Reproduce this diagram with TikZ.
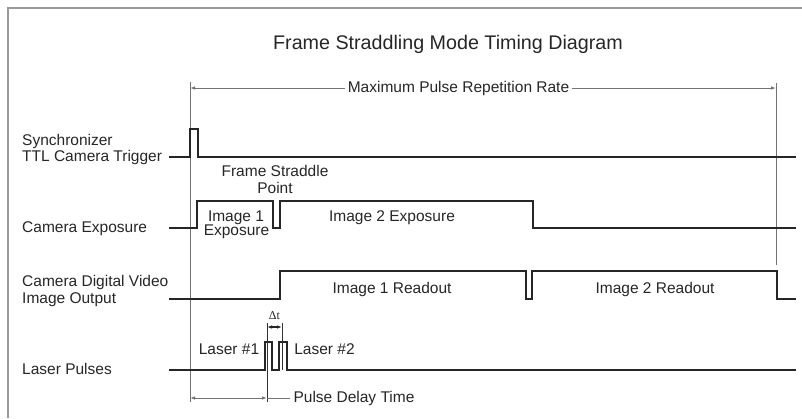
\documentclass[tikz,border=0pt]{standalone}
\usepackage{fontspec}
\setmainfont{Liberation Sans}
\newfontfamily\dtfont{Liberation Serif}
\usetikzlibrary{arrows.meta}
\newcommand{\tlabel}[3]{\node[lbl,anchor=base] (#1) at (#2) {#3}}
\newcommand{\siglabel}[3]{\node[lbl,anchor=base west] (#1) at (22,#2) {#3}}
\tikzset{
	>={Latex[length=5pt,width=3.5pt]},
	lbl/.style={font=\fontsize{15.5}{18}\selectfont,text=black!85,inner sep=0pt},
	sig/.style={line width=1.8pt,black!85,line join=miter},
	guide/.style={line width=0.9pt,black!55},
	dim/.style={guide,<->},
	frame/.style={line width=2pt,black!40}
}

\begin{document}
\begin{tikzpicture}[x=1pt,y=-1pt]
	\useasboundingbox (0,0) rectangle (802,418);
	\draw[frame] (8,418) -- (8,7.5) -- (802,7.5);
	\node[lbl,font=\fontsize{19.7}{22}\selectfont,anchor=base] (title) at (448,49) {Frame Straddling Mode Timing Diagram};
		\coordinate (start) at (190,82);
		\coordinate (stop) at (776,83);
		\draw[guide] (start) -- (190,402);
		\draw[guide] (stop) -- (776,265);
	\node[lbl,inner sep=3pt] (rate) at (458.5,88) {Maximum Pulse Repetition Rate};
		\draw[guide,<-] (start |- rate.west) -- (rate.west);
		\draw[guide,->] (rate.east) -- (stop |- rate.east);
	\siglabel{sync1}{145.7}{Synchronizer};
	\siglabel{sync2}{161.7}{TTL Camera Trigger};
	\siglabel{exp}{232}{Camera Exposure};
	\siglabel{video1}{286.7}{Camera Digital Video};
	\siglabel{video2}{303}{Image Output};
	\siglabel{laser}{374}{Laser Pulses};
		\draw[sig] (169,157) -- (190,157) -- (190,129) -- (198,129) -- (198,157) -- (796,157);
		\draw[sig] (169,228) -- (197,228) -- (197,201) -- (273,201) -- (273,228) -- (280,228) -- (280,201) -- (533,201) -- (533,228) -- (796,228);
		\draw[sig] (169,299) -- (280,299) -- (280,271) -- (526,271) -- (526,299) -- (532,299) -- (532,271) -- (777,271) -- (777,299) -- (796,299);
		\draw[sig] (169,370) -- (265,370) -- (265,342) -- (272,342) -- (272,370) -- (279,370) -- (279,342) -- (287,342) -- (287,370) -- (796,370);
	\tlabel{fsp1}{275,176.7}{Frame Straddle};
	\tlabel{fsp2}{275,193}{Point};
	\tlabel{img1a}{236,221}{Image 1};
	\tlabel{img1b}{236.5,235}{Exposure};
	\tlabel{img2}{392,221}{Image 2 Exposure};
	\tlabel{read1}{392,293}{Image 1 Readout};
	\tlabel{read2}{655,293}{Image 2 Readout};
	\tlabel{las1}{229,354}{Laser \#1};
	\tlabel{las2}{324.5,354}{Laser \#2};
		\coordinate (dta) at (267,323);
		\coordinate (dtb) at (282,323);
		\draw[guide,black!80] (dta) -- (267,402);
		\draw[guide,black!80] (dtb) -- (282,370);
		\draw[dim,black!85,line width=1.1pt] ([yshift=-4pt]dta) -- ([yshift=-4pt]dtb);
	\node[lbl,font=\dtfont\fontsize{12}{14}\selectfont,anchor=base] (dt) at (274.5,319) {Δt};
	\node[lbl,inner sep=3pt] (delay) at (354,398) {Pulse Delay Time};
		\draw[dim] (start |- delay.west) -- (dta |- delay.west);
		\draw[guide] (dta |- delay.west) -- (delay.west);
\end{tikzpicture}
\end{document}
